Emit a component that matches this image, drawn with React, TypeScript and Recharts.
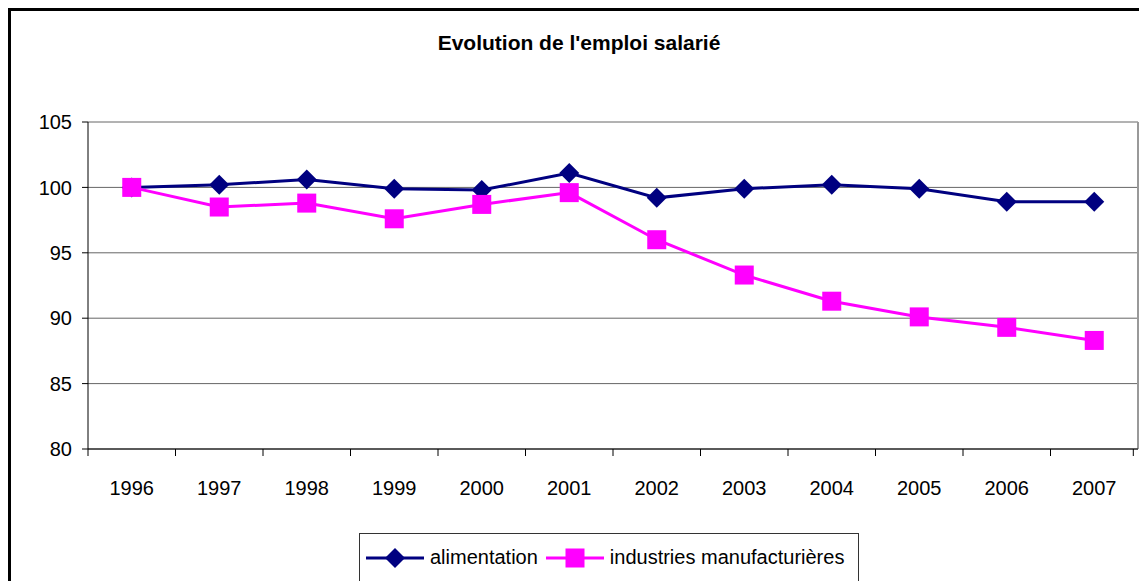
import React from "react";
import {
  CartesianGrid,
  Legend,
  Line,
  LineChart,
  ReferenceLine,
  XAxis,
  YAxis,
} from "recharts";

// Evolution de l'emploi salarié, base 100 en 1996.

const years = ["1996", "1997", "1998", "1999", "2000", "2001", "2002", "2003", "2004", "2005", "2006", "2007"];
const alimentation = [100, 100.2, 100.6, 99.9, 99.8, 101.1, 99.2, 99.9, 100.2, 99.9, 98.9, 98.9];
const manufacturieres = [100, 98.5, 98.8, 97.6, 98.7, 99.6, 96.0, 93.3, 91.3, 90.1, 89.3, 88.3];
const yTicks = [80, 85, 90, 95, 100, 105];

const NAVY = "#000080";
const PINK = "#ff00ff";
const FONT = "'Liberation Sans', Arial, sans-serif";

const data = years.map((y, i) => ({
  x: i,
  year: y,
  alimentation: alimentation[i],
  manufacturieres: manufacturieres[i],
}));

const bandEdges = years.map((_, i) => i - 0.5).concat([years.length - 0.5]);
const centers = years.map((_, i) => i);

function Diamond(props: any) {
  const { cx, cy, fill } = props;
  if (cx == null || cy == null) return null;
  const r = 10;
  return <polygon points={`${cx},${cy - r} ${cx + r},${cy} ${cx},${cy + r} ${cx - r},${cy}`} fill={fill} />;
}

function Square(props: any) {
  const { cx, cy, fill } = props;
  if (cx == null || cy == null) return null;
  const r = 9.5;
  return <rect x={cx - r} y={cy - r} width={r * 2} height={r * 2} fill={fill} />;
}

// tick mark hanging below the axis at each band edge
function EdgeTick(props: any) {
  const { x, y } = props;
  return <line x1={x} y1={y} x2={x} y2={y + 7} stroke="#000" strokeWidth={1} />;
}

function LegendBox() {
  const item = (color: string, marker: React.ReactNode, label: string) => (
    <span style={{ display: "inline-flex", alignItems: "center", marginRight: 8 }}>
      <svg width={60} height={20}>
        <line x1={0} y1={10} x2={58} y2={10} stroke={color} strokeWidth={3} />
        {marker}
      </svg>
      <span style={{ marginLeft: 4 }}>{label}</span>
    </span>
  );
  return (
    <div
      style={{
        display: "inline-flex",
        alignItems: "center",
        border: "1px solid #333",
        padding: "12px 6px",
        fontFamily: FONT,
        fontSize: 20,
        color: "#000",
        background: "#fff",
      }}
    >
      {item(NAVY, <polygon points="29,0 39,10 29,20 19,10" fill={NAVY} />, "alimentation")}
      {item(PINK, <rect x={19.5} y={0.5} width={19} height={19} fill={PINK} />, "industries manufacturières")}
    </div>
  );
}

export default function App() {
  return (
    <div
      style={{
        position: "relative",
        width: 1160,
        height: 590,
        border: "3px solid #000",
        background: "#fff",
        boxSizing: "border-box",
      }}
    >
      <div
        style={{
          position: "absolute",
          top: 20,
          left: 0,
          width: 1136,
          textAlign: "center",
          fontFamily: FONT,
          fontWeight: "bold",
          fontSize: 21,
        }}
      >
        Evolution de l'emploi salarié
      </div>
      <LineChart
        width={1136}
        height={570}
        data={data}
        margin={{ top: 111, right: 9, left: 17, bottom: 0 }}
      >
        <CartesianGrid vertical={false} stroke="#666" strokeWidth={1} />
        <XAxis
          xAxisId="a_tk"
          dataKey="x"
          type="number"
          domain={[-0.5, years.length - 0.5]}
          ticks={bandEdges}
          tick={<EdgeTick />}
          tickLine={false}
          tickSize={0}
          tickMargin={0}
          stroke="#000"
          height={1}
        />
        <XAxis
          xAxisId="b_lab"
          dataKey="x"
          type="number"
          domain={[-0.5, years.length - 0.5]}
          ticks={centers}
          tickFormatter={(v: number) => years[v] ?? ""}
          axisLine={false}
          tickLine={false}
          tickMargin={25}
          height={70}
          tick={{ fill: "#000", fontSize: 20, fontFamily: FONT }}
        />
        <YAxis
          domain={[80, 105]}
          ticks={yTicks}
          width={60}
          stroke="#000"
          tickSize={6}
          tickMargin={10}
          tick={{ fill: "#000", fontSize: 20, fontFamily: FONT }}
        />
        <ReferenceLine xAxisId="b_lab" x={years.length - 0.5} stroke="#999" strokeWidth={2} />
        <Legend
          verticalAlign="bottom"
          height={61}
          content={() => <LegendBox />}
          wrapperStyle={{ left: 348, top: 522, width: "auto" }}
        />
        <Line
          xAxisId="b_lab"
          dataKey="alimentation"
          name="alimentation"
          stroke={NAVY}
          strokeWidth={3}
          fill={NAVY}
          dot={<Diamond fill={NAVY} />}
          isAnimationActive={false}
        />
        <Line
          xAxisId="b_lab"
          dataKey="manufacturieres"
          name="industries manufacturières"
          stroke={PINK}
          strokeWidth={3}
          fill={PINK}
          dot={<Square fill={PINK} />}
          isAnimationActive={false}
        />
      </LineChart>
    </div>
  );
}
